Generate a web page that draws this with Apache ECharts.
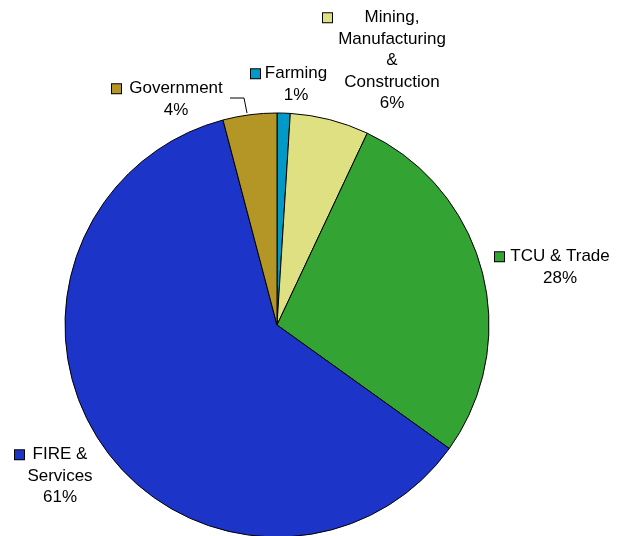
<!DOCTYPE html>
<html><head><meta charset="utf-8">
<script src="https://cdn.jsdelivr.net/npm/echarts@6/dist/echarts.min.js"></script>
<style>html,body{margin:0;padding:0;background:#fff}#c{width:625px;height:536px}</style>
</head><body><div id="c"></div>
<script>
const categories = ['Farming', 'Mining,\nManufacturing\n&\nConstruction', 'TCU & Trade', 'FIRE &\nServices', 'Government'];
const values = [1.0, 6.0, 27.9, 61.0, 4.1];
const pctLabels = ['1%', '6%', '28%', '61%', '4%'];
const colors = ['#0099c8', '#dfe081', '#33a333', '#1c34c8', '#b39625'];

// label layout (square left x, top y, text block width)
const labelPos = [
  {x: 251, y: 63, w: 64},
  {x: 323, y: 7, w: 112},
  {x: 495, y: 246, w: 104},
  {x: 15, y: 444, w: 64},
  {x: 112, y: 78, w: 102}
];

const FONT = '"Liberation Sans", Arial, sans-serif';
const LH = 21.5;

const data = categories.map((name, i) => {
  const rich = {
    sq: {width: 9, height: 9, backgroundColor: colors[i], borderColor: '#000', borderWidth: 1, lineHeight: LH},
    sp: {width: 13, lineHeight: LH},
    sp0: {width: 4, lineHeight: LH},
    c: {width: labelPos[i].w, align: 'center', fontSize: 17, fontFamily: FONT, color: '#000', lineHeight: LH}
  };
  return {
    name, value: values[i],
    itemStyle: {color: colors[i]},
    label: {rich},
    labelLine: {show: i === 4, lineStyle: {color: '#000', width: 1}}
  };
});

const chart = echarts.init(document.getElementById('c'));
chart.setOption({
  animation: false,
  series: [{
    type: 'pie',
    center: [277, 325],
    radius: 212,
    startAngle: 90,
    clockwise: true,
    avoidLabelOverlap: false,
    itemStyle: {borderColor: '#000', borderWidth: 1},
    emphasis: {disabled: true},
    label: {
      show: true,
      position: 'outside',
      formatter: (p) => {
        const lines = p.name.split('\n').concat([pctLabels[p.dataIndex]]);
        return lines.map((l, k) => (k === 0 ? '{sq|}{sp0|}' : '{sp|}') + '{c|' + l + '}').join('\n');
      }
    },
    labelLayout: (params) => {
      const lp = labelPos[params.dataIndex];
      const r = {x: lp.x, y: lp.y, align: 'left', verticalAlign: 'top'};
      if (params.dataIndex === 4) r.labelLinePoints = [[230, 98], [244, 98], [247, 113]];
      return r;
    },
    data
  }]
});
</script></body></html>
